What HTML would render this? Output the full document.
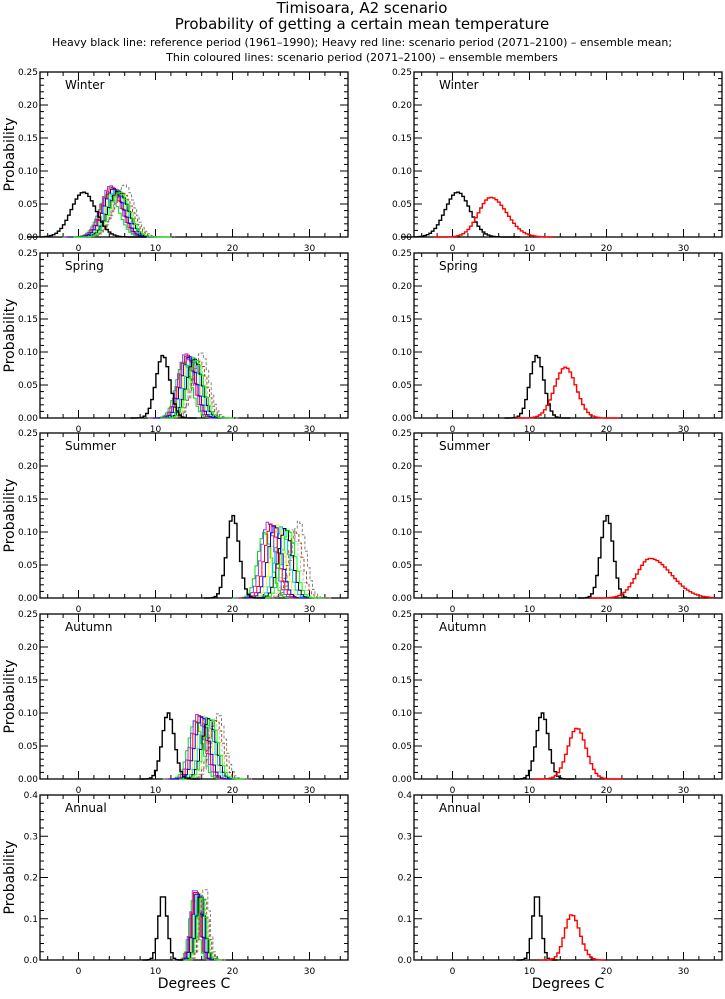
<!DOCTYPE html>
<html><head><meta charset="utf-8"><style>
body{margin:0;background:#fff;width:725px;height:994px;overflow:hidden}
svg{font-family:"DejaVu Sans","Liberation Sans",sans-serif}
</style></head><body>
<svg id="s" width="725" height="994" xmlns="http://www.w3.org/2000/svg">
<text x="362" y="13" font-size="15" text-anchor="middle">Timisoara, A2 scenario</text>
<text x="362" y="29" font-size="15" text-anchor="middle">Probability of getting a certain mean temperature</text>
<text x="362" y="46" font-size="11" text-anchor="middle">Heavy black line: reference period (1961–1990); Heavy red line: scenario period (2071–2100) – ensemble mean;</text>
<text x="362" y="61" font-size="11" text-anchor="middle">Thin coloured lines: scenario period (2071–2100) – ensemble members</text>
</svg>
<script>
var s=document.getElementById('s'),h='';
var tops=[72,253,433,614,795],H=165,W=308,lx=[40,414];
var seasons=[
 {n:'Winter',ym:0.25,ref:[0.5,1.6,0.068],red:[4.8,1.6,0.06,0.3],mem:[3.8,5.8,0.065,0.08,1.3]},
 {n:'Spring',ym:0.25,ref:[10.8,0.9,0.095],red:[14.5,1.4,0.077,0],mem:[13.5,15.8,0.085,0.1,1.0]},
 {n:'Summer',ym:0.25,ref:[19.9,0.8,0.125],red:[25.5,1.7,0.06,0.6],mem:[24,28.5,0.1,0.118,0.9]},
 {n:'Autumn',ym:0.25,ref:[11.5,0.8,0.1],red:[16,1.2,0.077,0],mem:[15,18,0.088,0.1,0.9]},
 {n:'Annual',ym:0.4,ref:[10.8,0.55,0.16],red:[15.3,0.9,0.11,0.2],mem:[14.8,16.3,0.15,0.18,0.55]}];
var cols=['#00e000','#ffee00','#c0c0c0','#8040ff','#00c0ff','#a05010','#ff0000','#000','#808080','#0000ff','#00ff00'];
function step(x0,y0,ym,m,sd,pk,sk,c,w,dash){
 var d='',bw=0.33,first=true;
 for(var t=m-4.5*sd;t<m+5*sd;t+=bw){
  var z=(t-m)/sd;var sdd=z>0?1+sk:1;var v=pk*Math.exp(-0.5*Math.pow((t-m)/(sd*sdd),2));
  var px=x0+(t+5)*W/40,px2=x0+(t+bw+5)*W/40,py=y0+H-v/ym*H;
  d+=(first?'M'+px.toFixed(1)+' '+(y0+H)+' L':' L')+px.toFixed(1)+' '+py.toFixed(1)+' L'+px2.toFixed(1)+' '+py.toFixed(1);first=false;}
 return '<path d="'+d+'" fill="none" stroke="'+c+'" stroke-width="'+w+'"'+(dash?' stroke-dasharray="3,2"':'')+'/>';
}
seasons.forEach(function(S,i){
 var y0=tops[i];
 for(var p=0;p<2;p++){
  var x0=lx[p];
  h+='<rect x="'+x0+'" y="'+y0+'" width="'+W+'" height="'+H+'" fill="none" stroke="#000" stroke-width="1.3"/>';
  for(var t=-4;t<=34;t+=2){var px=x0+(t+5)*W/40,L=(t%10==0)?8:4;
   h+='<line x1="'+px+'" y1="'+(y0+H)+'" x2="'+px+'" y2="'+(y0+H-L)+'" stroke="#000"/><line x1="'+px+'" y1="'+y0+'" x2="'+px+'" y2="'+(y0+L)+'" stroke="#000"/>';
   if(t%10==0)h+='<text x="'+px+'" y="'+(y0+H+14)+'" font-size="9" text-anchor="middle">'+t+'</text>';}
  var st=S.ym==0.4?0.02:0.01,maj=S.ym==0.4?0.1:0.05;
  for(var k=0;k<=Math.round(S.ym/st);k++){var v=k*st,py=y0+H-v/S.ym*H,mj=Math.abs(v/maj-Math.round(v/maj))<1e-6,L=mj?8:4;
   h+='<line x1="'+x0+'" y1="'+py+'" x2="'+(x0+L)+'" y2="'+py+'" stroke="#000"/><line x1="'+(x0+W)+'" y1="'+py+'" x2="'+(x0+W-L)+'" y2="'+py+'" stroke="#000"/>';
   if(mj)h+='<text x="'+(x0-2)+'" y="'+(py+3)+'" font-size="9" text-anchor="end">'+v.toFixed(S.ym==0.4?1:2)+'</text>';}
  h+='<text x="'+(x0+25)+'" y="'+(y0+17)+'" font-size="12">'+S.n+'</text>';
  if(p==0){
   for(var j=0;j<11;j++){var f=(j*0.618)%1;var m=S.mem[0]+(S.mem[1]-S.mem[0])*((j*4)%11)/10;
    var pk=S.mem[2]+(S.mem[3]-S.mem[2])*f;h+=step(x0,y0,S.ym,m,S.mem[4],pk,0,cols[j%cols.length],1,j%3==2);}
   h+=step(x0,y0,S.ym,S.ref[0],S.ref[1],S.ref[2],0,'#000',1.4);
   h+='<text transform="translate(14,'+(y0+H/2)+') rotate(-90)" font-size="14" text-anchor="middle">Probability</text>';
  }else{
   h+=step(x0,y0,S.ym,S.ref[0],S.ref[1],S.ref[2],0,'#000',1.4);
   h+=step(x0,y0,S.ym,S.red[0],S.red[1],S.red[2],S.red[3],'#ff0000',1.4);
  }
 }
});
h+='<text x="194" y="988" font-size="14" text-anchor="middle">Degrees C</text><text x="568" y="988" font-size="14" text-anchor="middle">Degrees C</text>';
s.insertAdjacentHTML('beforeend',h);
</script>
</body></html>
